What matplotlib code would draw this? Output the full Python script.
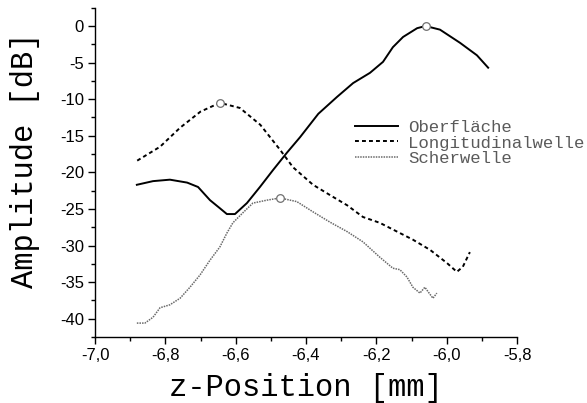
import numpy as np
import matplotlib
matplotlib.use("Agg")
import matplotlib.pyplot as plt
from matplotlib.ticker import MultipleLocator, FuncFormatter

# --- data ---
ober_x = [-6.881, -6.835, -6.787, -6.738, -6.707, -6.673, -6.645, -6.625, -6.602,
          -6.568, -6.531, -6.494, -6.454, -6.417, -6.365, -6.312, -6.266, -6.218,
          -6.181, -6.153, -6.124, -6.084, -6.060, -6.019, -5.962, -5.914, -5.882]
ober_y = [-21.7, -21.2, -21.0, -21.4, -22.0, -23.8, -24.9, -25.7, -25.7,
          -24.2, -22.0, -19.7, -17.3, -15.2, -12.0, -9.7, -7.8, -6.4,
          -4.9, -2.9, -1.5, -0.3, 0.0, -0.5, -2.3, -4.0, -5.7]

long_x = [-6.880, -6.815, -6.758, -6.700, -6.645, -6.588, -6.530, -6.474, -6.437,
          -6.380, -6.332, -6.283, -6.238, -6.190, -6.141, -6.096, -6.047, -5.999,
          -5.971, -5.954, -5.934]
long_y = [-18.4, -16.5, -13.9, -11.7, -10.5, -11.2, -13.5, -16.9, -19.3,
          -21.7, -23.1, -24.5, -26.1, -26.9, -28.1, -29.2, -30.6, -32.4,
          -33.6, -32.9, -30.9]

scher_x = [-6.881, -6.858, -6.835, -6.815, -6.787, -6.758, -6.730, -6.701, -6.673,
           -6.645, -6.625, -6.608, -6.579, -6.551, -6.511, -6.474, -6.426, -6.380,
           -6.332, -6.283, -6.238, -6.190, -6.153, -6.133, -6.113, -6.096, -6.076,
           -6.062, -6.053, -6.039, -6.028]
scher_y = [-40.6, -40.6, -39.8, -38.5, -38.1, -37.2, -35.7, -34.0, -32.0,
           -30.2, -28.3, -26.9, -25.5, -24.2, -23.8, -23.5, -24.0, -25.4,
           -26.8, -28.1, -29.5, -31.6, -33.1, -33.3, -34.3, -35.7, -36.5,
           -35.7, -36.3, -37.2, -36.5]

labels = ["Oberfläche", "Longitudinalwelle", "Scherwelle"]
x_ticks = [-7.0, -6.8, -6.6, -6.4, -6.2, -6.0, -5.8]
y_ticks = [-40, -35, -30, -25, -20, -15, -10, -5, 0]

mono = "Liberation Mono"
sans = "Liberation Sans"

fig = plt.figure(figsize=(5.87, 4.03), dpi=100)
ax = fig.add_axes([95 / 587, 1 - 337 / 403, 422 / 587, (337 - 7.7) / 403])

series = [
    (ober_x, ober_y, dict(color="black", lw=1.4, ls="-")),
    (long_x, long_y, dict(color="black", lw=1.4, ls=(0, (2.0, 1.6)))),
    (scher_x, scher_y, dict(color="#6a6a6a", lw=1.1, ls=(0, (1.0, 0.7)))),
]
for (xs, ys, st), lab in zip(series, labels):
    ax.plot(xs, ys, label=lab, **st)
    i = int(np.argmax(ys))
    ax.plot([xs[i]], [ys[i]], "o", ms=5.5, mfc="white", mec="#707070", mew=0.9,
            zorder=5)

ax.set_xlim(-7.0, -5.8)
ax.set_ylim(-42.5, 2.5)
ax.set_xticks(x_ticks)
ax.set_yticks(y_ticks)
ax.xaxis.set_minor_locator(MultipleLocator(0.1))
ax.yaxis.set_minor_locator(MultipleLocator(2.5))
ax.xaxis.set_major_formatter(FuncFormatter(lambda v, p: f"{v:.1f}".replace(".", ",")))
ax.yaxis.set_major_formatter(FuncFormatter(lambda v, p: f"{v:.0f}"))

for s in ["top", "right"]:
    ax.spines[s].set_visible(False)
for s in ["left", "bottom"]:
    ax.spines[s].set_linewidth(1.0)

ax.tick_params(which="major", direction="out", length=5, width=1.0, labelsize=12,
               pad=3)
ax.tick_params(which="minor", direction="out", length=3, width=1.0)
for t in ax.get_xticklabels() + ax.get_yticklabels():
    t.set_fontfamily(sans)

ax.set_xlabel("z-Position [mm]", fontfamily=mono, fontsize=22, va="center")
ax.xaxis.set_label_coords(0.5, (337 - 388) / 329.3)
ax.set_ylabel("Amplitude [dB]", fontfamily=mono, fontsize=22, va="center")
ax.yaxis.set_label_coords((25 - 95) / 422, (337 - 160) / 329.3)

leg = ax.legend(loc="center left", bbox_to_anchor=((355 - 95) / 422, (337 - 143) / 329.3),
                frameon=False, prop={"family": mono, "size": 12.5},
                handlelength=2.5, handletextpad=0.55, labelspacing=0.0,
                borderpad=0, borderaxespad=0)
for t in leg.get_texts():
    t.set_color("#5a5a5a")

fig.savefig("out.png", dpi=100)
